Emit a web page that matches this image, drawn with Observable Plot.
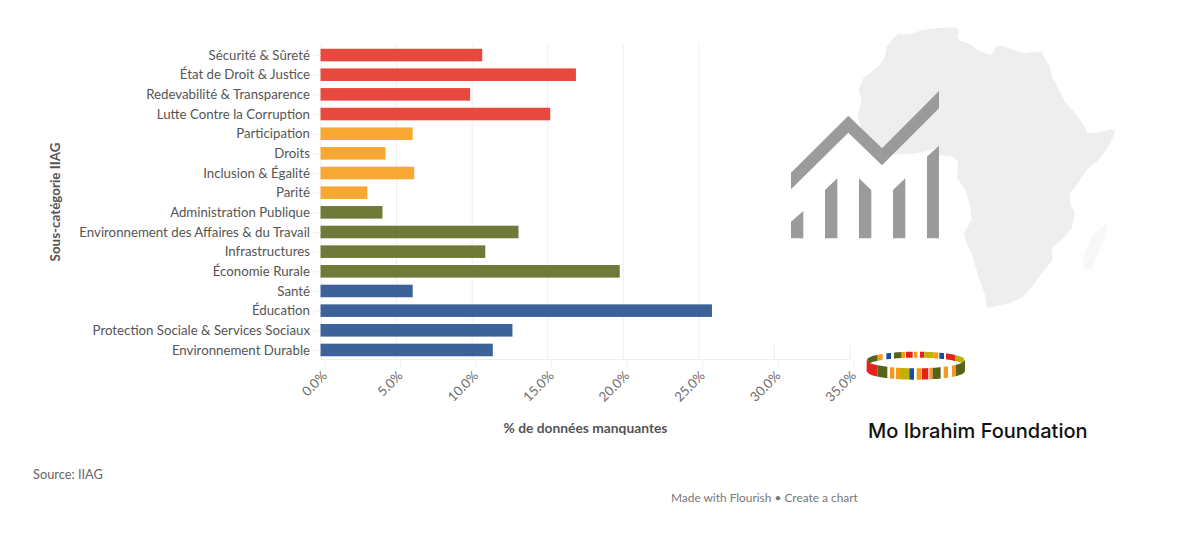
<!DOCTYPE html>
<html><head><meta charset="utf-8">
<script src="https://cdn.jsdelivr.net/npm/d3@7"></script>
<script src="https://cdn.jsdelivr.net/npm/@observablehq/plot@0.6"></script>
<style>
html,body{margin:0;padding:0;background:#fff;font-family:"Noto Sans",sans-serif}
#stage{position:relative;width:1189px;height:540px;overflow:hidden}
#chart{position:absolute;left:0;top:0}
#deco{position:absolute;left:0;top:0}
.t{position:absolute;white-space:nowrap}
</style></head><body>
<div id="stage">
<div id="chart"></div>
<svg id="deco" width="1189" height="540"></svg>
<div class="t" style="left:33px;top:466px;font:12.8px Lato,sans-serif;color:#666">Source: IIAG</div>
<div class="t" style="left:671px;top:490px;font:11.9px Lato,sans-serif;color:#777">Made with Flourish • Create a chart</div>
<div class="t" style="left:868px;top:419px;font:500 20px Inter,sans-serif;color:#111">Mo Ibrahim Foundation</div>
</div>
<script>
const categories = ["Sécurité & Sûreté","État de Droit & Justice","Redevabilité & Transparence","Lutte Contre la Corruption","Participation","Droits","Inclusion & Égalité","Parité","Administration Publique","Environnement des Affaires & du Travail","Infrastructures","Économie Rurale","Santé","Éducation","Protection Sociale & Services Sociaux","Environnement Durable"];
const values = [10.7,16.9,9.9,15.2,6.1,4.3,6.2,3.1,4.1,13.1,10.9,19.8,6.1,25.9,12.7,11.4];
const groups = ["a","a","a","a","b","b","b","b","c","c","c","c","d","d","d","d"];
const groupColors = {a:"#e8493f",b:"#f8a832",c:"#6f7a39",d:"#3d6199"};
const ticks = [0,5,10,15,20,25,30,35];
const rows = categories.map((c,i)=>({c,v:values[i],g:groups[i]}));

const plot = Plot.plot({
  width:1189,height:440,
  marginLeft:320.5,marginRight:339.5,marginTop:45,marginBottom:80,
  style:{fontFamily:"Lato,sans-serif",background:"transparent"},
  x:{domain:[0,35],ticks,label:null},
  y:{domain:categories,paddingInner:0.36,paddingOuter:0.19,round:false,label:null},
  marks:[
    Plot.gridX(ticks,{stroke:"#eee",strokeOpacity:1}),
    Plot.barX(rows,{x:"v",y:"c",fill:d=>groupColors[d.g]}),
    Plot.axisX({ticks,tickFormat:d=>d.toFixed(1)+"%",tickRotate:-45,tickSize:7,tickPadding:6,stroke:"#eee",fill:"#6b6b6b",fontSize:13.2,dx:4,label:null}),
    Plot.axisY({tickSize:7,tickPadding:4,stroke:"#eee",fill:"#555",fontSize:13.25,label:null})
  ]
});
document.getElementById("chart").appendChild(plot);

/* chart furniture: baseline, axis titles */
const psvg = d3.select(plot);
psvg.append("line").attr("x1",320).attr("x2",850).attr("y1",359.5).attr("y2",359.5).attr("stroke","#eee");
psvg.append("text").attr("x",585.5).attr("y",433).attr("text-anchor","middle")
  .attr("font-size",13.8).attr("font-weight",700).attr("fill","#555").text("% de données manquantes");
psvg.append("text").attr("transform","translate(60,202) rotate(-90)").attr("text-anchor","middle")
  .attr("font-size",13.4).attr("font-weight",700).attr("fill","#555").text("Sous-catégorie IIAG");

/* decorative logo artwork, traced in zoom coordinates */
const svg = d3.select("#deco");
svg.append("rect").attr("x",760).attr("y",30).attr("width",100).attr("height",315).attr("fill","#fff");
const g = svg.append("g").attr("transform","translate(770,20) scale(0.3333)");
const africa = [[385,40],[395,45],[425,42],[455,30],[500,25],[560,22],[568,35],[562,50],[568,62],[600,72],[625,92],[660,105],[672,95],[680,78],[700,78],[735,92],[765,100],[790,95],[815,95],[830,125],[838,135],[845,165],[865,205],[885,245],[915,280],[945,320],[950,340],[975,338],[1035,327],[1030,350],[1010,390],[985,420],[950,450],[920,495],[900,520],[900,550],[915,580],[905,625],[880,655],[845,685],[848,720],[815,760],[790,795],[760,830],[720,850],[670,860],[650,865],[645,825],[625,770],[610,715],[590,670],[582,640],[605,600],[600,555],[585,510],[560,470],[565,425],[545,408],[505,405],[500,385],[440,400],[360,405],[340,400],[320,375],[275,325],[262,290],[275,240],[265,210],[280,175],[330,135],[345,110],[350,80],[370,55]];
const madagascar = [[1015,605],[1005,650],[985,700],[965,750],[940,745],[940,710],[965,650]];
const poly = (p,f,o=1)=>g.append("polygon").attr("points",p.join(" ")).attr("fill",f).attr("fill-opacity",o);
poly(africa,"#eeeeee");
poly(madagascar,"#f8f8f8");
const icon = [
 [[63,458],[235,287],[336,385],[507,213],[507,265],[336,436],[235,338],[63,508]],
 [[63,605],[100,573],[100,655],[63,655]],
 [[165,510],[202,475],[202,655],[165,655]],
 [[267,475],[304,510],[304,655],[267,655]],
 [[369,510],[406,475],[406,655],[369,655]],
 [[471,410],[507,377],[507,655],[471,655]]
];
icon.forEach(p=>poly(p,"#8f9092",0.9));

/* bracelet */
const R="#e3231b",O="#56641a",A="#f39a1e",M="#c2b000",B="#164f9e";
const front=[[50,83,R],[83,112,O],[120,133,A],[138,150,A],[150,178,M],[178,192,B],[200,213,A],[215,235,R],[238,248,A],[248,272,O],[281,294,A],[306,318,A],[318,345,O]];
const back=[[52,83,O],[83,98,A],[109,123,B],[132,155,O],[155,165,A],[168,188,R],[192,202,A],[210,223,R],[223,250,M],[250,265,A],[268,282,B],[288,315,R],[315,342,M]];
const rg = svg.append("g").attr("transform","translate(850,340) scale(0.3333)");
const cx=197.5,a=147.5,cy=60,b=25;
const ey=(x,s)=>cy+s*b*Math.sqrt(Math.max(0,1-((x-cx)/a)**2));
const seg=(x0,x1,s,h,f)=>{
  const xs=d3.range(0,7).map(i=>x0+(x1-x0)*i/6);
  const top=xs.map(x=>[x,ey(x,s)]);
  const bot=xs.slice().reverse().map(x=>[x,ey(x,s)+h]);
  rg.append("polygon").attr("points",top.concat(bot).join(" ")).attr("fill",f);
};
back.forEach(([x0,x1,f])=>seg(x0,x1,-1,18,f));
front.forEach(([x0,x1,f])=>seg(x0,x1,1,34,f));
</script>
</body></html>
